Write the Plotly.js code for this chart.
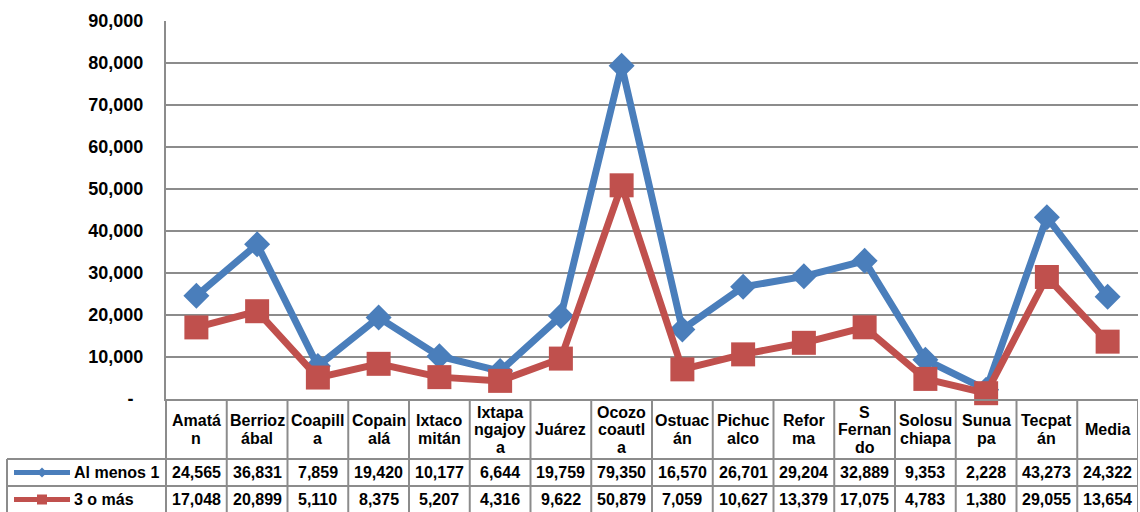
<!DOCTYPE html>
<html>
<head>
<meta charset="utf-8">
<script src="https://cdn.plot.ly/plotly-3.0.1.min.js"></script>
<style>
html,body{margin:0;padding:0;background:#fff;}
#chart{width:1140px;height:512px;}
</style>
</head>
<body>
<div id="chart"></div>
<script>
// ---- data ----
const categories = ["Amatán","Berriozábal","Coapilla","Copainalá","Ixtacomitán","Ixtapangajoya","Juárez","Ocozocoautla","Ostuacán","Pichucalco","Reforma","S Fernando","Solosuchiapa","Sunuapa","Tecpatán","Media"];
const categoryLabels = [["Amatá","n"],["Berrioz","ábal"],["Coapill","a"],["Copain","alá"],["Ixtaco","mitán"],["Ixtapa","ngajoy","a"],["Juárez"],["Ocozo","coautl","a"],["Ostuac","án"],["Pichuc","alco"],["Refor","ma"],["S","Fernan","do"],["Solosu","chiapa"],["Sunua","pa"],["Tecpat","án"],["Media"]];
const seriesNames = ["Al menos 1","3 o más"];
const alMenos1 = [24565,36831,7859,19420,10177,6644,19759,79350,16570,26701,29204,32889,9353,2228,43273,24322];
const tresOMas = [17048,20899,5110,8375,5207,4316,9622,50879,7059,10627,13379,17075,4783,1380,29055,13654];
const yTickVals = [0,10000,20000,30000,40000,50000,60000,70000,80000,90000];
const yTickText = ["-\u00a0\u00a0","10,000","20,000","30,000","40,000","50,000","60,000","70,000","80,000","90,000"];

// ---- layout helpers (pixel geometry) ----
const W = 1140, H = 512;
const L = 166, R = 2, T = 21, B = 113;
const plotW = W - L - R, plotH = H - T - B;
const px = X => (X - L) / plotW;       // pixel x -> paper x
const py = Y => (H - B - Y) / plotH;   // pixel y -> paper y

const BLUE = "#4A7EBB", RED = "#C0504D", GRID = "#8C8C8C";
const FONT = "Liberation Sans, Arial, sans-serif";
const n = categories.length;

const traces = [
  {x: categories, y: alMenos1, name: seriesNames[0], type: "scatter", mode: "lines+markers",
   line: {color: BLUE, width: 7}, marker: {symbol: "diamond", size: 20, color: BLUE}, cliponaxis: false},
  {x: categories, y: tresOMas, name: seriesNames[1], type: "scatter", mode: "lines+markers",
   line: {color: RED, width: 7}, marker: {symbol: "square", size: 24, color: RED}, cliponaxis: false}
];

const shapes = [];
const annotations = [];
const rowTop = 459, row2Top = 486, bottom = 512;
const lineStyle = {color: GRID, width: 2};
// vertical lines between categories in the table
for (let i = 0; i < n; i++) {
  shapes.push({type: "line", xref: "x", yref: "paper", x0: i + 0.5, x1: i + 0.5, y0: py(H - B), y1: py(bottom), line: lineStyle, layer: "below"});
}
// left axis extension through table
shapes.push({type: "line", xref: "paper", yref: "paper", x0: 0, x1: 0, y0: py(H - B), y1: py(bottom), line: lineStyle});
// legend column left border
shapes.push({type: "line", xref: "paper", yref: "paper", x0: px(7), x1: px(7), y0: py(rowTop), y1: py(bottom), line: lineStyle});
// horizontal row lines
[rowTop, row2Top].forEach(Y => {
  shapes.push({type: "line", xref: "paper", yref: "paper", x0: px(7), x1: 1, y0: py(Y), y1: py(Y), line: lineStyle});
});

const f16 = {family: FONT, size: 16, color: "#000", weight: "bold"};
// header labels
categoryLabels.forEach((lines, i) => {
  const c = 429.5, sp = 17.5;
  lines.forEach((t, k) => {
    annotations.push({xref: "x", yref: "paper", x: categories[i], y: py(c + (k - (lines.length - 1) / 2) * sp),
      text: t, showarrow: false, xanchor: "center", yanchor: "middle", font: f16});
  });
});
// values rows
const rows = [[alMenos1, 472.5], [tresOMas, 499.5]];
rows.forEach(([vals, Y]) => {
  vals.forEach((v, i) => {
    annotations.push({xref: "x", yref: "paper", x: categories[i], y: py(Y), text: v.toLocaleString("en-US"),
      showarrow: false, xanchor: "center", yanchor: "middle", font: f16});
  });
});
// legend keys
const keys = [[seriesNames[0], BLUE, 472.5, "diamond"], [seriesNames[1], RED, 499.5, "square"]];
keys.forEach(([name, col, Y, sym]) => {
  shapes.push({type: "line", xref: "paper", yref: "paper", x0: px(14), x1: px(70), y0: py(Y), y1: py(Y), line: {color: col, width: 5}});
  if (sym === "square") {
    shapes.push({type: "rect", xref: "paper", yref: "paper", x0: px(37), x1: px(47), y0: py(Y - 5), y1: py(Y + 5), fillcolor: col, line: {width: 0}});
  } else {
    shapes.push({type: "path", xref: "paper", yref: "paper",
      path: `M ${px(42)} ${py(Y - 5)} L ${px(47)} ${py(Y)} L ${px(42)} ${py(Y + 5)} L ${px(37)} ${py(Y)} Z`,
      fillcolor: col, line: {width: 0}});
  }
  annotations.push({xref: "paper", yref: "paper", x: px(72), y: py(Y), text: name, showarrow: false,
    xanchor: "left", yanchor: "middle", font: f16});
});

const layout = {
  width: W, height: H,
  margin: {l: L, r: R, t: T, b: B, pad: 0},
  paper_bgcolor: "#fff", plot_bgcolor: "#fff",
  showlegend: false,
  hovermode: false,
  xaxis: {type: "category", range: [-0.5, n - 0.5], showticklabels: false, showgrid: false,
    zeroline: false, showline: true, linecolor: GRID, linewidth: 2, ticks: "", fixedrange: true},
  yaxis: {range: [0, 90000], tickvals: yTickVals, ticktext: yTickText, showgrid: true, gridcolor: GRID, gridwidth: 2,
    zeroline: false, showline: true, linecolor: GRID, linewidth: 2, ticks: "", ticklabelstandoff: 17,
    tickfont: {family: FONT, size: 18, color: "#000", weight: "bold"}, fixedrange: true},
  shapes: shapes,
  annotations: annotations
};

Plotly.newPlot("chart", traces, layout, {displayModeBar: false, staticPlot: true});
</script>
</body>
</html>
